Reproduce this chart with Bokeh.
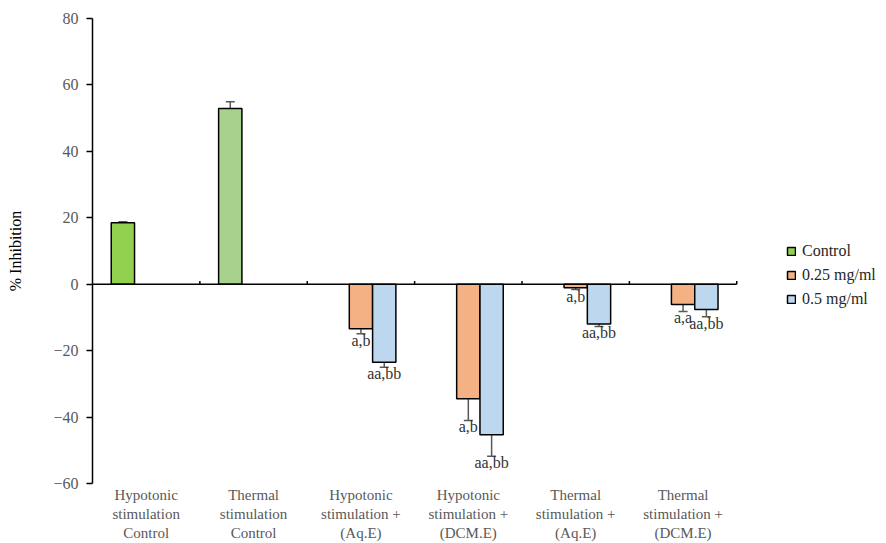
from bokeh.plotting import figure
from bokeh.models import (ColumnDataSource, Whisker, TeeHead, Legend, LegendItem,
                          FixedTicker, Range1d)
from bokeh.core.properties import value
from bokeh.embed import file_html
from bokeh.resources import INLINE

# ---------------- data ----------------
categories = [
    "Hypotonic\nstimulation\nControl",
    "Thermal\nstimulation\nControl",
    "Hypotonic\nstimulation +\n(Aq.E)",
    "Hypotonic\nstimulation +\n(DCM.E)",
    "Thermal\nstimulation +\n(Aq.E)",
    "Thermal\nstimulation +\n(DCM.E)",
]
series_names = ["Control", "0.25 mg/ml", "0.5 mg/ml"]

control_idx = [0, 1]
control_vals = [18.5, 52.9]
control_err = [0.3, 2.0]

low_idx = [2, 3, 4, 5]
low_vals = [-13.4, -34.5, -1.1, -6.1]
low_err = [1.5, 6.5, 0.5, 2.1]
low_labels = ["a,b", "a,b", "a,b", "a,a"]

high_idx = [2, 3, 4, 5]
high_vals = [-23.5, -45.3, -12.0, -7.6]
high_err = [1.5, 6.5, 0.7, 2.2]
high_labels = ["aa,bb", "aa,bb", "aa,bb", "aa,bb"]

y_ticks = [-60, -40, -20, 0, 20, 40, 60, 80]

# ---------------- style ----------------
FONT = "Liberation Serif"
FS = "16px"
GRAY = "#595959"
BW = 0.217                       # bar width (fraction of a category)
offsets = [-BW, 0.0, BW]         # slot offsets for the three series
control_colors = ["#92D050", "#A9D18E"]
low_color = "#F4B183"
high_color = "#BDD7EE"

n = len(categories)
p = figure(width=878, height=543, output_backend="svg", toolbar_location=None,
           x_range=Range1d(0, 7.32), y_range=Range1d(-60, 80),
           min_border_left=92, min_border_right=0, min_border_top=18,
           min_border_bottom=60)
p.background_fill_color = "white"
p.border_fill_color = "white"
p.outline_line_color = None
p.xgrid.visible = False
p.ygrid.visible = False


def make_src(idx, vals, errs, slot, labels=None):
    xs = [i + 0.5 + offsets[slot] for i in idx]
    d = dict(x=xs, top=vals, lower=[v - e for v, e in zip(vals, errs)],
             upper=[v + e for v, e in zip(vals, errs)])
    if labels is not None:
        d["label"] = labels
    return ColumnDataSource(d)


src_c = make_src(control_idx, control_vals, control_err, 0)
src_c.data["color"] = control_colors
src_l = make_src(low_idx, low_vals, low_err, 1, low_labels)
src_h = make_src(high_idx, high_vals, high_err, 2, high_labels)

r_c = p.vbar(x="x", top="top", bottom=0, width=BW, source=src_c,
             fill_color="color", line_color="black", line_width=1.5)
r_l = p.vbar(x="x", top="top", bottom=0, width=BW, source=src_l,
             fill_color=low_color, line_color="black", line_width=1.5)
r_h = p.vbar(x="x", top="top", bottom=0, width=BW, source=src_h,
             fill_color=high_color, line_color="black", line_width=1.5)

# zero line and category separators
p.segment(x0=[0], x1=[n], y0=[0], y1=[0], line_color="black", line_width=1.5)
p.segment(x0=list(range(1, n + 1)), x1=list(range(1, n + 1)),
          y0=[0] * n, y1=[1.0] * n, line_color="black", line_width=1.5)

for s in (src_c, src_l, src_h):
    w = Whisker(base="x", lower="lower", upper="upper", source=s,
                line_color=GRAY, line_width=1.5,
                upper_head=TeeHead(size=9, line_color=GRAY, line_width=1.5),
                lower_head=TeeHead(size=9, line_color=GRAY, line_width=1.5))
    p.add_layout(w)

for s in (src_l, src_h):
    p.text(x="x", y="lower", text="label", source=s, text_align="center",
           text_baseline="top", y_offset=-2, text_font=value(FONT),
           text_font_size=FS, text_color="#333333")

# axes
yax = p.yaxis[0]
yax.ticker = FixedTicker(ticks=y_ticks)
yax.axis_line_color = "black"
yax.axis_line_width = 1.5
yax.major_tick_line_color = "black"
yax.major_tick_line_width = 1.5
yax.major_tick_in = 0
yax.major_tick_out = 6
yax.minor_tick_line_color = None
yax.major_label_text_font = FONT
yax.major_label_text_font_size = FS
yax.major_label_text_color = GRAY
yax.major_label_standoff = 8
yax.axis_label = "% Inhibition"
yax.axis_label_text_font = FONT
yax.axis_label_text_font_size = "16px"
yax.axis_label_text_font_style = "normal"
yax.axis_label_text_color = "black"
yax.axis_label_standoff = 26

xax = p.xaxis[0]
xax.ticker = FixedTicker(ticks=[i + 0.5 for i in range(n)])
xax.major_label_overrides = {i + 0.5: c for i, c in enumerate(categories)}
xax.axis_line_color = None
xax.major_tick_line_color = None
xax.minor_tick_line_color = None
xax.major_tick_in = 0
xax.major_tick_out = 0
xax.major_label_text_font = FONT
xax.major_label_text_font_size = "15px"
xax.major_label_text_color = GRAY
xax.major_label_standoff = 3

legend = Legend(items=[
    LegendItem(label=series_names[0], renderers=[r_c], index=0),
    LegendItem(label=series_names[1], renderers=[r_l]),
    LegendItem(label=series_names[2], renderers=[r_h]),
], location=(694, 174))
legend.glyph_width = 10
legend.glyph_height = 10
legend.label_height = 20
legend.spacing = 4
legend.padding = 0
legend.margin = 0
legend.label_standoff = 6
legend.border_line_color = None
legend.background_fill_alpha = 0
legend.label_text_font = FONT
legend.label_text_font_size = FS
legend.label_text_color = "#262626"
p.add_layout(legend)

open("out.html", "w").write(file_html(p, INLINE))
